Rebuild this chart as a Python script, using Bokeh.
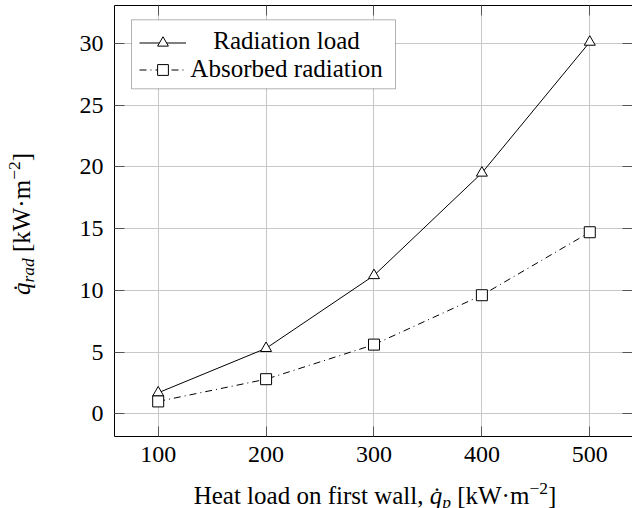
from bokeh.plotting import figure
from bokeh.models import (Range1d, FixedTicker, LinearAxis, Legend, LegendItem,
                          Label, ColumnDataSource, Div, BoxAnnotation)
from bokeh.layouts import row, column
from bokeh.core.properties import value
from bokeh.embed import file_html
from bokeh.resources import INLINE

# ---- data ----
heat_load = [100, 200, 300, 400, 500]
radiation_load = [1.7, 5.3, 11.2, 19.5, 30.1]
absorbed_radiation = [1.0, 2.8, 5.6, 9.6, 14.7]
x_ticks = [100, 200, 300, 400, 500]
y_ticks = [0, 5, 10, 15, 20, 25, 30]
series_names = ["Radiation load", "Absorbed radiation"]

FONT = "Liberation Serif"
CSS_FONT = "'Liberation Serif'"

p = figure(width=592, height=480, output_backend="svg", toolbar_location=None,
           x_range=Range1d(59.5, 539.6), y_range=Range1d(-1.84, 33.06),
           min_border_left=74, min_border_right=0, min_border_top=5,
           min_border_bottom=44)
p.outline_line_color = None
p.background_fill_color = "white"
p.border_fill_color = "white"

src = ColumnDataSource(dict(x=heat_load, rad=radiation_load,
                            absb=absorbed_radiation))
l1 = p.line("x", "rad", source=src, line_color="black", line_width=1)
m1 = p.scatter("x", "rad", source=src, marker="triangle", size=11,
               fill_color="white", line_color="black", line_width=1)
l2 = p.line("x", "absb", source=src, line_color="black", line_width=1,
            line_dash="7 4 1 4")
m2 = p.scatter("x", "absb", source=src, marker="square", size=11,
               fill_color="white", line_color="black", line_width=1)

# grid
p.xgrid.ticker = FixedTicker(ticks=x_ticks)
p.ygrid.ticker = FixedTicker(ticks=y_ticks)
for g in (p.xgrid, p.ygrid):
    g.grid_line_color = "#c8c8c8"
    g.grid_line_width = 1


def style_axis(ax, show_labels=True, standoff=8):
    ax.axis_line_color = "black"
    ax.axis_line_width = 1
    ax.major_tick_in = 10
    ax.major_tick_out = 0
    ax.major_tick_line_color = "#555555"
    ax.major_tick_line_width = 1
    ax.minor_tick_line_color = None
    if show_labels:
        ax.major_label_text_font = FONT
        ax.major_label_text_font_size = "24px"
        ax.major_label_text_color = "black"
        ax.major_label_standoff = standoff
    else:
        ax.major_label_text_font_size = "0px"
        ax.major_label_text_color = None
        ax.major_label_standoff = 0


p.xaxis.ticker = FixedTicker(ticks=x_ticks)
p.yaxis.ticker = FixedTicker(ticks=y_ticks)
style_axis(p.xaxis[0], True, 10)
style_axis(p.yaxis[0], True, 11)

top = LinearAxis(ticker=FixedTicker(ticks=x_ticks))
style_axis(top, False)
p.add_layout(top, "above")
right = LinearAxis(ticker=FixedTicker(ticks=y_ticks))
style_axis(right, False)
right.axis_line_color = None
p.add_layout(right, "right")

# legend: white framed box (under), glyph samples, centred texts (over)
box = BoxAnnotation(left=17, right=281, top=416.7, bottom=347.7,
                    left_units="screen", right_units="screen",
                    top_units="screen", bottom_units="screen",
                    fill_color="white", fill_alpha=1.0,
                    line_color="black", line_width=1, level="glyph")
p.add_layout(box)

legend = Legend(items=[LegendItem(label=value(" "), renderers=[l1, m1]),
                       LegendItem(label=value(" "), renderers=[l2, m2])],
                location=(24.5, 353), orientation="vertical", padding=0,
                spacing=0, margin=0, glyph_width=47, glyph_height=27,
                label_width=0, label_height=27, label_standoff=0,
                label_text_font_size="1px", label_text_color=None,
                border_line_color=None, background_fill_alpha=0.0)
p.add_layout(legend, "center")

for name, sy in zip(series_names, [396.5, 368.5]):
    p.add_layout(Label(x=172, y=sy, x_units="screen", y_units="screen",
                       text=name, text_font=FONT, text_font_size="25px",
                       text_align="center", text_baseline="alphabetic",
                       text_color="black", level="overlay"))

# axis titles as HTML (italic, sub- and superscripts)
F = f"font-family:{CSS_FONT};"
NORM = F + "font-size:25px;font-style:normal;"
ITAL = F + "font-size:25px;font-style:italic;"
SUB = F + "font-size:17.5px;position:relative;top:4px;font-style:italic;"
SUP = F + "font-size:17.5px;position:relative;top:-10px;font-style:normal;"
BASE = (f"position:absolute;white-space:nowrap;{F}"
        "font-size:25px;line-height:25px;color:black;")


def title_html(sub):
    return (f'<span style="{ITAL}">q&#775;</span>'
            f'<span style="{SUB}">{sub}</span>'
            f'<span style="{NORM}"> [kW&#183;m</span>'
            f'<span style="{SUP}">&#8722;2</span>'
            f'<span style="{NORM}">]</span>')


x_html = (
    '<div style="position:relative;width:632px;height:28px;">'
    f'<div style="{BASE}left:375px;top:3px;transform:translateX(-50%);">'
    f'<span style="{NORM}">Heat load on first wall, </span>'
    + title_html("p") +
    '</div></div>'
)
y_html = (
    '<div style="position:relative;width:40px;height:480px;">'
    f'<div style="{BASE}left:22.6px;top:224px;'
    'transform:translate(-50%,-50%) rotate(-90deg);">'
    + title_html("rad") +
    '</div></div>'
)

xdiv = Div(text=x_html, width=632, height=28, margin=0)
ydiv = Div(text=y_html, width=40, height=480, margin=0)

layout = column(row(ydiv, p, spacing=0), xdiv, spacing=0)

open("out.html", "w").write(file_html(layout, INLINE))
